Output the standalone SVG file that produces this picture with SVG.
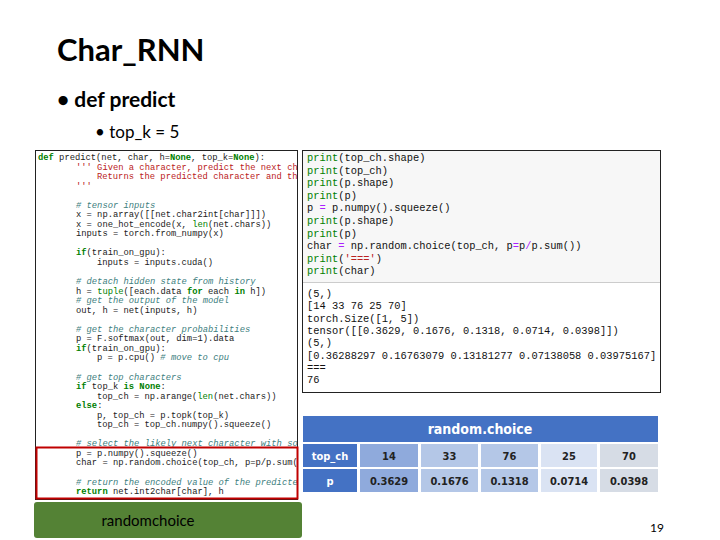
<svg xmlns="http://www.w3.org/2000/svg" width="720" height="540" viewBox="0 0 720 540">
<style>
.t{font-family:Lato,"Open Sans",sans-serif;fill:#000}
.c{font-family:"Liberation Mono",monospace;font-size:8.8px;fill:#222;white-space:pre}
.r{font-family:"Liberation Mono",monospace;font-size:10.4px;fill:#111;white-space:pre}
.k{fill:#008000;font-weight:bold}
.cm{fill:#408080;font-style:italic}
.ds{fill:#ba2121}
.pr{fill:#008000}
.tb{font-family:"DejaVu Sans Condensed","DejaVu Sans",sans-serif;font-size:11px;text-anchor:middle;font-weight:bold;fill:#222}
</style>
<defs>
<clipPath id="lc"><rect x="36" y="151" width="261" height="348"/></clipPath>
</defs>
<rect width="720" height="540" fill="#fff"/>
<g id="title">
<text class="t" x="57" y="61" font-size="31" font-weight="bold">Char_RNN</text>
<text class="t" x="57" y="107" font-size="21" font-weight="bold">• def predict</text>
<text class="t" x="95" y="138" font-size="17">• top_k = 5</text>
</g>
<g id="leftcode">
<rect x="35.5" y="150.5" width="262" height="349" fill="#fff" stroke="#222"/>
<g clip-path="url(#lc)" class="c">
<text x="38" y="160"><tspan class="k">def</tspan> predict(net, char, h=<tspan class="k">None</tspan>, top_k=<tspan class="k">None</tspan>):</text>
<text x="76" y="169.5" class="ds">'''  Given a character, predict the next character.</text>
<text x="97" y="179" class="ds">Returns the predicted character and the hidden state.</text>
<text x="76" y="188.5" class="ds">'''</text>
<text x="76" y="207.5" class="cm"># tensor inputs</text>
<text x="76" y="217">x = np.array([[net.char2int[char]]])</text>
<text x="76" y="226.5">x = one_hot_encode(x, <tspan class="pr">len</tspan>(net.chars))</text>
<text x="76" y="236">inputs = torch.from_numpy(x)</text>
<text x="76" y="255"><tspan class="k">if</tspan>(train_on_gpu):</text>
<text x="97" y="264.5">inputs = inputs.cuda()</text>
<text x="76" y="284" class="cm"># detach hidden state from history</text>
<text x="76" y="293.5">h = <tspan class="pr">tuple</tspan>([each.data <tspan class="k">for</tspan> each <tspan class="k">in</tspan> h])</text>
<text x="76" y="303" class="cm"># get the output of the model</text>
<text x="76" y="312.5">out, h = net(inputs, h)</text>
<text x="76" y="331.5" class="cm"># get the character probabilities</text>
<text x="76" y="341">p = F.softmax(out, dim=1).data</text>
<text x="76" y="350.5"><tspan class="k">if</tspan>(train_on_gpu):</text>
<text x="97" y="360">p = p.cpu() <tspan class="cm"># move to cpu</tspan></text>
<text x="76" y="379.5" class="cm"># get top characters</text>
<text x="76" y="389"><tspan class="k">if</tspan> top_k <tspan class="k">is</tspan> <tspan class="k">None</tspan>:</text>
<text x="97" y="398.5">top_ch = np.arange(<tspan class="pr">len</tspan>(net.chars))</text>
<text x="76" y="408"><tspan class="k">else</tspan>:</text>
<text x="97" y="417.5">p, top_ch = p.topk(top_k)</text>
<text x="97" y="427">top_ch = top_ch.numpy().squeeze()</text>
<text x="76" y="446" class="cm"># select the likely next character with some element of randomness</text>
<text x="76" y="455.5">p = p.numpy().squeeze()</text>
<text x="76" y="465">char = np.random.choice(top_ch, p=p/p.sum())</text>
<text x="76" y="484.5" class="cm"># return the encoded value of the predicted char and the hidden state</text>
<text x="76" y="494"><tspan class="k">return</tspan> net.int2char[char], h</text>
</g>
<rect x="36.5" y="447.5" width="261" height="51" fill="none" stroke="#c00000" stroke-width="2"/>
</g>
<g id="rightcode">
<rect x="302.5" y="150.5" width="358" height="242" fill="#fff" stroke="#222"/>
<rect x="303" y="151" width="357" height="131" fill="#f7f7f7"/>
<line x1="303" y1="282.5" x2="660" y2="282.5" stroke="#ccc"/>
<g class="r">
<text x="307" y="161"><tspan class="pr">print</tspan>(top_ch.shape)</text>
<text x="307" y="173.6"><tspan class="pr">print</tspan>(top_ch)</text>
<text x="307" y="186.2"><tspan class="pr">print</tspan>(p.shape)</text>
<text x="307" y="198.8"><tspan class="pr">print</tspan>(p)</text>
<text x="307" y="211.4">p <tspan fill="#aa22ff">=</tspan> p.numpy().squeeze()</text>
<text x="307" y="224"><tspan class="pr">print</tspan>(p.shape)</text>
<text x="307" y="236.6"><tspan class="pr">print</tspan>(p)</text>
<text x="307" y="249.2">char <tspan fill="#aa22ff">=</tspan> np.random.choice(top_ch, p<tspan fill="#aa22ff">=</tspan>p<tspan fill="#aa22ff">/</tspan>p.sum())</text>
<text x="307" y="261.8"><tspan class="pr">print</tspan>(<tspan class="ds">'==='</tspan>)</text>
<text x="307" y="274.4"><tspan class="pr">print</tspan>(char)</text>
<text x="307" y="297">(5,)</text>
<text x="307" y="309.3">[14 33 76 25 70]</text>
<text x="307" y="321.6">torch.Size([1, 5])</text>
<text x="307" y="333.9">tensor([[0.3629, 0.1676, 0.1318, 0.0714, 0.0398]])</text>
<text x="307" y="346.2">(5,)</text>
<text x="307" y="358.5">[0.36288297 0.16763079 0.13181277 0.07138058 0.03975167]</text>
<text x="307" y="370.8">===</text>
<text x="307" y="383.1">76</text>
</g>
</g>
<g id="table">
<rect x="303" y="416" width="355" height="26" fill="#4472c4"/>
<text class="tb" x="480" y="434" style="fill:#fff;font-size:14px">random.choice</text>
<rect x="303" y="444" width="54" height="23" fill="#4472c4"/>
<rect x="303" y="469" width="54" height="23" fill="#4472c4"/>
<rect x="360" y="444" width="58" height="23" fill="#8faadc"/>
<rect x="421" y="444" width="57" height="23" fill="#b4c7e7"/>
<rect x="481" y="444" width="57" height="23" fill="#b4c7e7"/>
<rect x="541" y="444" width="56" height="23" fill="#dae3f3"/>
<rect x="600" y="444" width="58" height="23" fill="#d6dce5"/>
<rect x="360" y="469" width="58" height="23" fill="#8faadc"/>
<rect x="421" y="469" width="57" height="23" fill="#b4c7e7"/>
<rect x="481" y="469" width="57" height="23" fill="#b4c7e7"/>
<rect x="541" y="469" width="56" height="23" fill="#dae3f3"/>
<rect x="600" y="469" width="58" height="23" fill="#d6dce5"/>
<text class="tb" x="330" y="459.5" style="fill:#fff">top_ch</text>
<text class="tb" x="330" y="484.5" style="fill:#fff">p</text>
<text class="tb" x="389" y="459.5">14</text>
<text class="tb" x="449.5" y="459.5">33</text>
<text class="tb" x="509.5" y="459.5">76</text>
<text class="tb" x="569" y="459.5">25</text>
<text class="tb" x="629" y="459.5">70</text>
<text class="tb" x="389" y="484.5">0.3629</text>
<text class="tb" x="449.5" y="484.5">0.1676</text>
<text class="tb" x="509.5" y="484.5">0.1318</text>
<text class="tb" x="569" y="484.5">0.0714</text>
<text class="tb" x="629" y="484.5">0.0398</text>
</g>
<g id="label">
<rect x="34" y="502" width="268" height="36" rx="3" fill="#548235"/>
<text class="t" x="148" y="526" font-size="15" text-anchor="middle" fill="#1a1a1a">randomchoice</text>
</g>
<text class="t" x="664" y="532" font-size="12" fill="#888" text-anchor="end">19</text>
</svg>
